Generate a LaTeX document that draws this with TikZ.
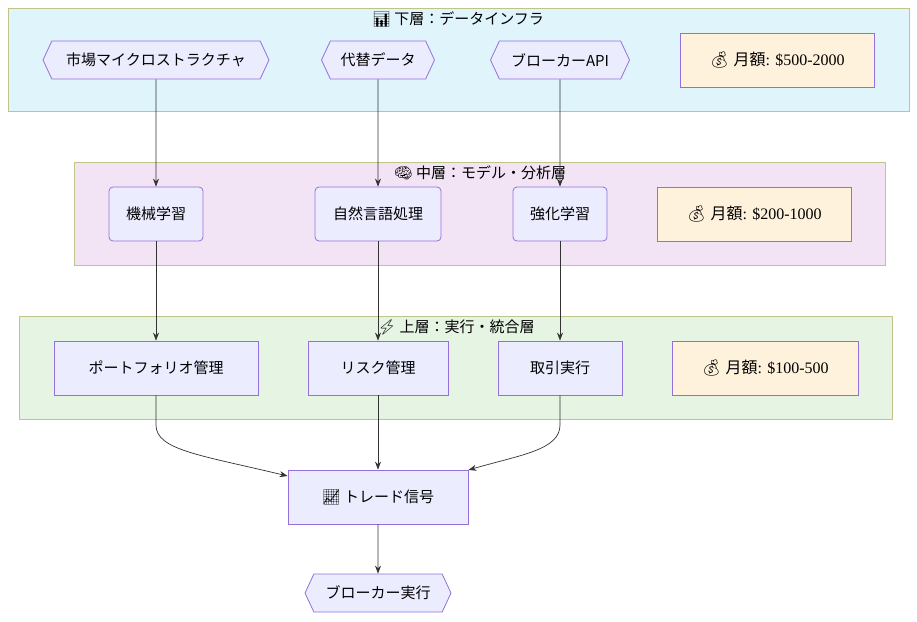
\documentclass[tikz,border=0pt]{standalone}
\usepackage{fontspec}
\setmainfont{Liberation Serif}
\newfontfamily\jp{Noto Sans CJK JP}
\newfontfamily\emo{Noto Emoji}
\usetikzlibrary{shapes.symbols,arrows.meta}
\definecolor{nfill}{HTML}{ECECFF}
\definecolor{nborder}{HTML}{9370DB}
\definecolor{lborder}{HTML}{BFC48A}
\definecolor{cfill}{HTML}{FFF2DC}
\tikzset{
  layer/.style={draw=lborder,line width=0.8pt},
  proc/.style={draw=nborder,fill=nfill,line width=0.8pt,font=\jp\fontsize{15}{18}\selectfont,inner sep=0pt},
  hexa/.style={draw=nborder,fill=nfill,line width=0.8pt,font=\jp\fontsize{15}{18}\selectfont,inner sep=0pt,shape=signal,signal to=west and east,signal pointer angle=130,minimum height=38pt},
  cost/.style={draw=nborder,fill=cfill,line width=0.8pt,font=\fontsize{16}{18}\selectfont,inner sep=0pt,minimum width=194pt,minimum height=54pt},
  ttl/.style={font=\jp\fontsize{15}{18}\selectfont},
  conn/.style={-{Stealth[length=8pt,width=6pt]},line width=0.7pt,draw=black!80}
}
\begin{document}
\begin{tikzpicture}[x=1pt,y=-1pt]
\useasboundingbox[fill=white] (0,0) rectangle (917,621);
% layers
\filldraw[layer,fill={rgb,255:red,224;green,244;blue,252}] (8,8) rectangle (909,111);
\node[ttl] (t1) at (458,19) {{\emo 📊} 下層：データインフラ};
\filldraw[layer,fill={rgb,255:red,243;green,228;blue,245}] (74,162) rectangle (885,265);
\node[ttl] (t2) at (480,173) {{\emo 🧠} 中層：モデル・分析層};
\filldraw[layer,fill={rgb,255:red,230;green,244;blue,228}] (19,316) rectangle (892,419);
\node[ttl] (t3) at (456,327) {{\emo ⚡} 上層：実行・統合層};
% bottom
\node[hexa,minimum width=226pt] (a1) at (156,60) {市場マイクロストラクチャ};
\node[hexa,minimum width=113pt] (a2) at (378,60) {代替データ};
\node[hexa,minimum width=139pt] (a3) at (560,60) {ブローカーAPI};
\node[cost] (c1) at (777,60) {{\emo 💰} {\jp 月額}: \$500-2000};
% middle
\node[proc,minimum width=94pt,minimum height=54pt,rounded corners=4pt] (b1) at (156,214) {機械学習};
\node[proc,minimum width=126pt,minimum height=54pt,rounded corners=4pt] (b2) at (378,214) {自然言語処理};
\node[proc,minimum width=94pt,minimum height=54pt,rounded corners=4pt] (b3) at (560,214) {強化学習};
\node[cost] (c2) at (754,214) {{\emo 💰} {\jp 月額}: \$200-1000};
% top
\node[proc,minimum width=204pt,minimum height=54pt] (d1) at (156,368) {ポートフォリオ管理};
\node[proc,minimum width=140pt,minimum height=54pt] (d2) at (378,368) {リスク管理};
\node[proc,minimum width=124pt,minimum height=54pt] (d3) at (560,368) {取引実行};
\node[cost,minimum width=186pt] (c3) at (765,368) {{\emo 💰} {\jp 月額}: \$100-500};
% signal
\node[proc,minimum width=180pt,minimum height=54pt] (s) at (378,497) {{\emo 📈} トレード信号};
\node[hexa,minimum width=146pt] (e) at (378,593) {ブローカー実行};
% edges
\draw[conn] (a1) -- (b1);
\draw[conn] (a2) -- (b2);
\draw[conn] (a3) -- (b3);
\draw[conn] (b1) -- (d1);
\draw[conn] (b2) -- (d2);
\draw[conn] (b3) -- (d3);
\draw[conn] (d2) -- (s);
\draw[conn] (d1.south) -- (156,425) .. controls (156,450) and (200,455) .. (s.north west |- 0,476);
\draw[conn] (d3.south) -- (560,425) .. controls (560,450) and (520,455) .. (s.north east |- 0,470);
\draw[conn] (s) -- (e);
\end{tikzpicture}
\end{document}
